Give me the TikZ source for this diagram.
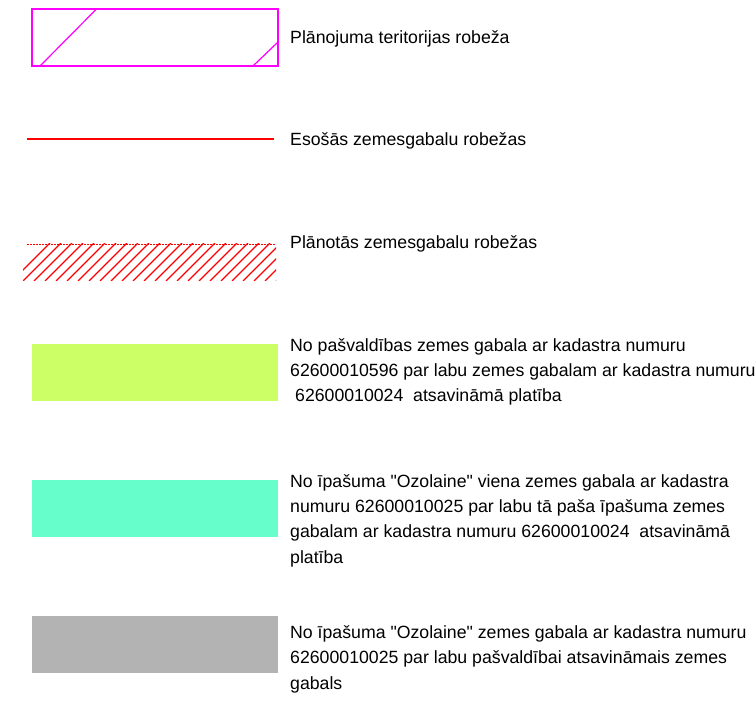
\documentclass[tikz,border=0pt]{standalone}
\usepackage{fontspec}
\setmainfont{Liberation Sans}
\usetikzlibrary{calc}
\definecolor{bordercol}{RGB}{255,0,255}
\definecolor{linecol}{RGB}{255,0,0}
\definecolor{greencol}{RGB}{204,255,102}
\definecolor{cyancol}{RGB}{102,255,204}
\definecolor{graycol}{RGB}{179,179,179}
\tikzstyle{legendtext}=[anchor=base west,inner sep=0pt,align=left,font=\fontsize{17.7}{25.3}\selectfont]

\begin{document}
\begin{tikzpicture}[x=1pt,y=-1pt]
  \def\L{32}    % left edge of swatches
  \def\R{278}   % right edge of swatches
  \def\T{290}   % left edge of texts
  \useasboundingbox (0,0) rectangle (755,703);

  % territory border
  \draw[bordercol,line width=1.4pt] (\L,9) rectangle (\R,66);
  \draw[bordercol,line width=1.2pt] (40,66) -- (96.5,9);
  \draw[bordercol,line width=1.2pt] (253,66) -- (\R,42);
  \node[legendtext] (terr) at (\T,44) {Plānojuma teritorijas robeža};

  % existing borders
  \draw[linecol,line width=1.3pt] (27,139) -- (274,139);
  \node[legendtext] (exist) at (\T,146) {Esošās zemesgabalu robežas};

  % planned borders
  \draw[linecol,line width=1.5pt,dash pattern=on 1.5pt off 1.5pt] (27,244.5) -- (276,244.5);
  \begin{scope}
    \clip (23,244) rectangle (276,280.5);
    \foreach \i in {0,...,26} {
      \draw[linecol,line width=1.2pt] ({12+11*\i},281) -- ({12+11*\i+38},243);
    }
  \end{scope}
  \node[legendtext] (plan) at (\T,249) {Plānotās zemesgabalu robežas};

  % areas to be transferred (base west = last line)
  \fill[greencol] (\L,344) rectangle (\R,401);
  \node[legendtext] (area1) at (\T,401.6) {No pašvaldības zemes gabala ar kadastra numuru\\62600010596 par labu zemes gabalam ar kadastra numuru\\\hspace*{0.28em}62600010024\ \ atsavināmā platība};

  \fill[cyancol] (\L,480) rectangle (\R,537);
  \node[legendtext] (area2) at (\T,563) {No īpašuma \textquotedbl Ozolaine\textquotedbl\ viena zemes gabala ar kadastra\\numuru 62600010025 par labu tā paša īpašuma zemes\\gabalam ar kadastra numuru 62600010024\ \ atsavināmā\\platība};

  \fill[graycol] (\L,616) rectangle (\R,673);
  \node[legendtext] (area3) at (\T,689) {No īpašuma \textquotedbl Ozolaine\textquotedbl\ zemes gabala ar kadastra numuru\\62600010025 par labu pašvaldībai atsavināmais zemes\\gabals};
\end{tikzpicture}
\end{document}
